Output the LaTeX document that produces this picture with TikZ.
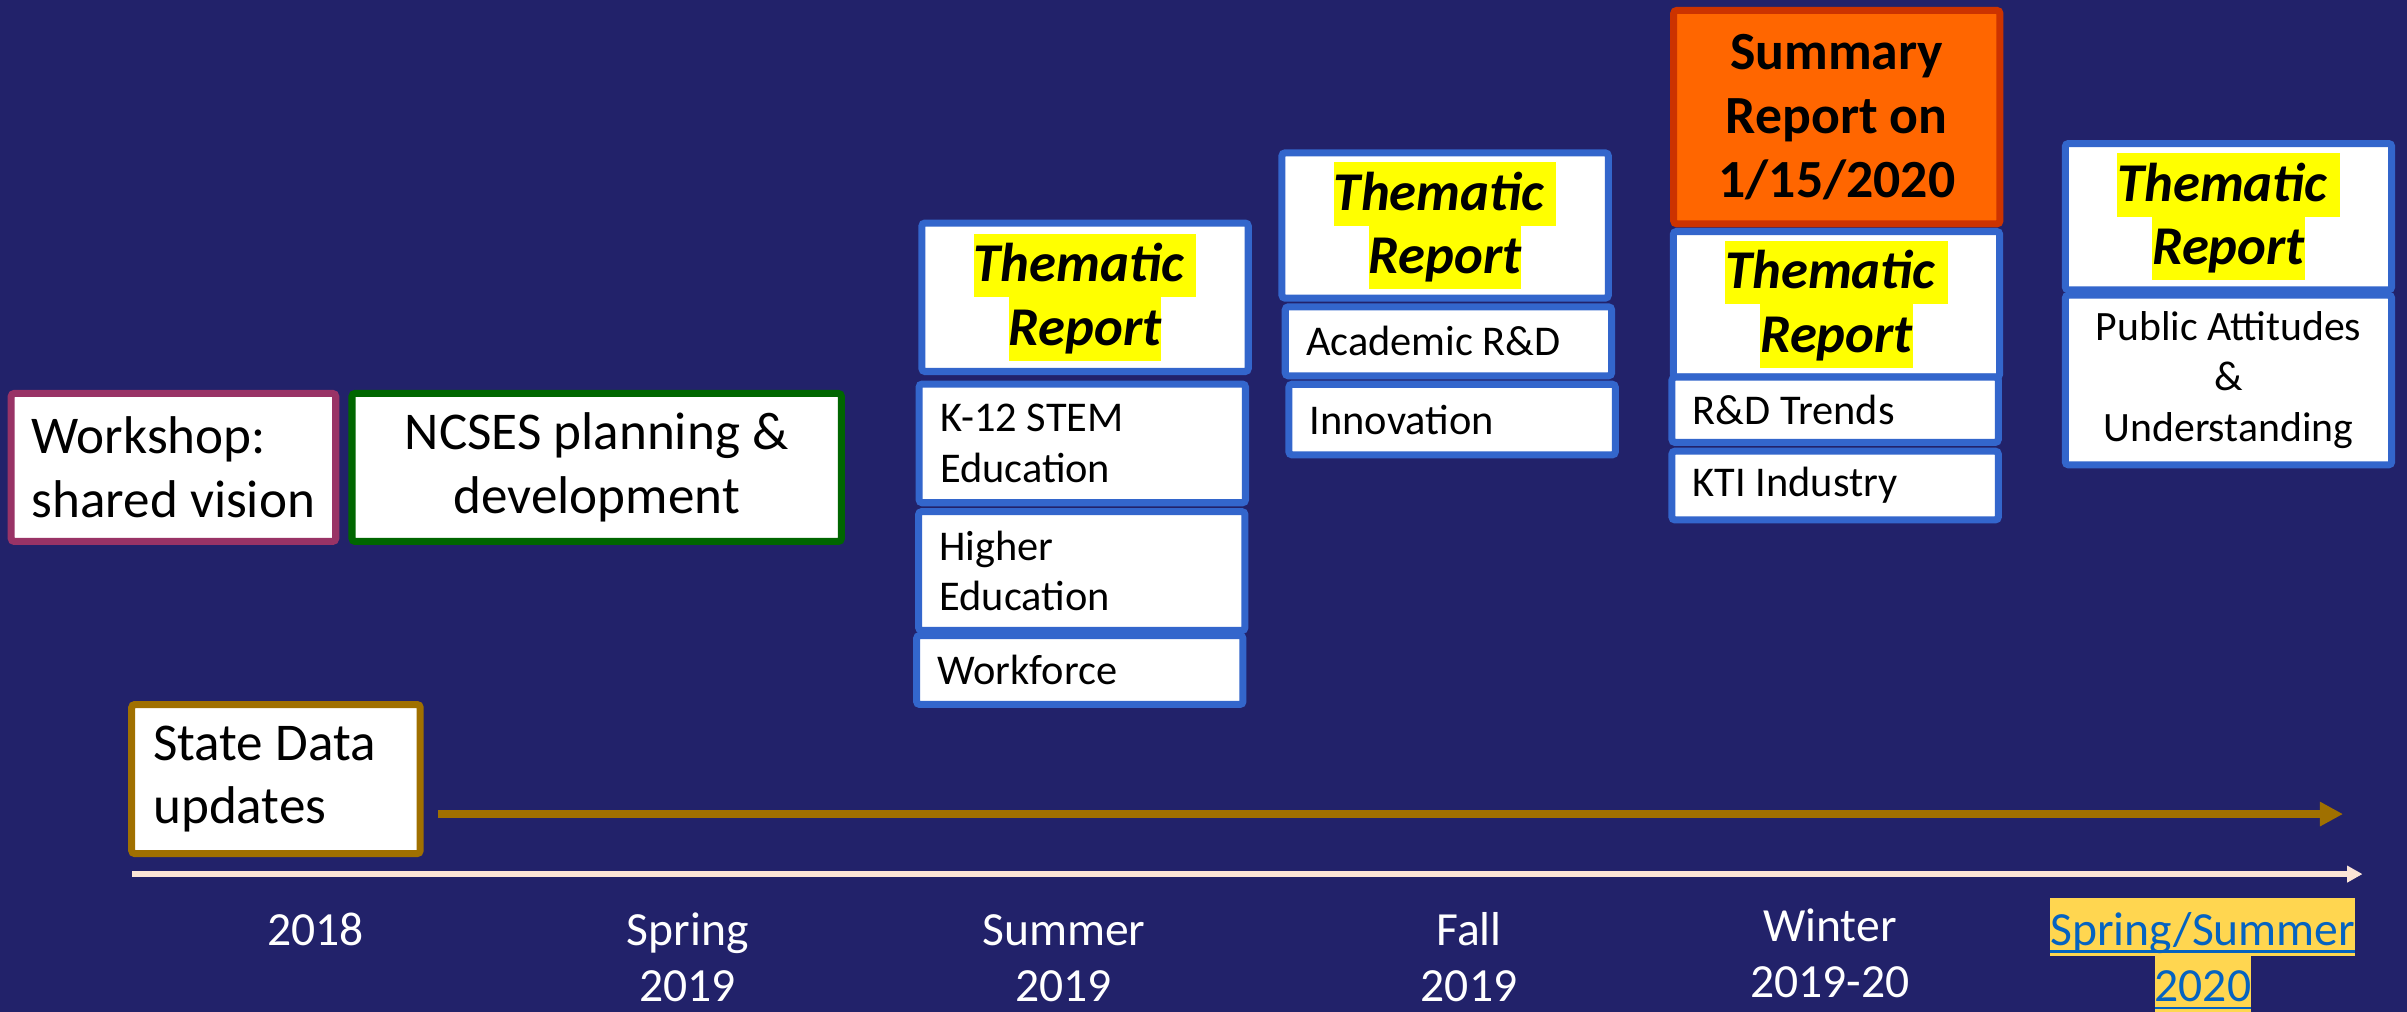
\documentclass[tikz,border=0pt]{standalone}
\usepackage{fontspec}
\setmainfont{Carlito}
\usetikzlibrary{arrows.meta}
\definecolor{bg}{RGB}{34,34,106}
\definecolor{rblue}{RGB}{51,102,204}
\definecolor{wsmag}{RGB}{153,51,102}
\definecolor{ncgreen}{RGB}{0,102,0}
\definecolor{sdgold}{RGB}{160,112,0}
\definecolor{sumorange}{RGB}{255,102,0}
\definecolor{sumborder}{RGB}{204,51,0}
\definecolor{hlyellow}{RGB}{255,255,0}
\definecolor{hlgold}{RGB}{255,214,80}
\definecolor{linkblue}{RGB}{5,99,193}
\definecolor{tlcream}{RGB}{251,229,214}
\lineskiplimit=-20pt
\newcommand\hlthem[1]{{\setlength\fboxsep{0pt}\colorbox{hlyellow}{\rule[-5pt]{0pt}{20.7pt}#1}}}
\newcommand\undl[1]{\setbox0\hbox{#1}\rlap{\rule[-2.5pt]{\wd0}{0.9pt}}\box0}
\newcommand\hlss[1]{{\setlength\fboxsep{0pt}\colorbox{hlgold}{\rule[-3.7pt]{0pt}{19pt}\undl{#1}}}}
\begin{document}
\begin{tikzpicture}[x=0.5pt,y=-0.5pt,
  box/.style={draw, line width=2.3pt, fill=white, rounded corners=1pt, inner sep=0pt, text=black},
  bigtext/.style={font=\fontsize{17.3}{20.7}\selectfont},
  them/.style={box, draw=rblue, minimum width=106.3pt, align=center,
    font=\fontsize{17.8}{20.7}\selectfont\bfseries\itshape},
  sub/.style={box, draw=rblue, minimum width=106.3pt, text width=92.7pt, inner xsep=6.8pt,
    align=flush left, font=\fontsize{13.8}{16.3}\selectfont},
  lbl/.style={text=white, align=center, inner sep=0pt,
    font=\fontsize{15.5}{18.5}\selectfont},
  goldarrow/.style={line width=2.7pt, draw=sdgold, -{Triangle[width=7.5pt,length=7.5pt]}},
  timeline/.style={line width=1.85pt, draw=tlcream, -{Triangle[width=5.2pt,length=5pt]}}]
\useasboundingbox (0,0) rectangle (1568,659);
\fill[bg] (0,0) rectangle (1568,659);

% left boxes
\node[box, draw=wsmag, minimum width=105.7pt, minimum height=48.2pt, align=flush left, bigtext] (ws) at (113,304.5) {Workshop:\\shared vision};
\node[box, draw=ncgreen, minimum width=159.4pt, minimum height=48.2pt, align=center, bigtext] (ncses) at (388.7,304.5) {NCSES planning \&\\development};
\node[box, draw=sdgold, minimum width=93.95pt, minimum height=48.55pt, text width=79.9pt, inner xsep=7pt, align=flush left, bigtext] (sd) at (179.75,507.5) {State Data\\updates};

% Summer 2019
\node[them, minimum height=48.35pt] (th1) at (706.85,193.65) {\hlthem{Thematic\ }\\\hlthem{Report}};
\node[sub, minimum height=38.65pt] (k12) at (705.05,288.85) {K-12 STEM\\Education};
\node[sub, minimum height=38.7pt] (hed) at (704.7,372) {Higher\\Education};
\node[sub, minimum height=22.45pt] (wf) at (703.4,436.45) {Workforce};

% Fall 2019
\node[them, minimum height=47.3pt] (th2) at (941.4,146.9) {\hlthem{Thematic\ }\\\hlthem{Report}};
\node[sub, minimum height=22.45pt] (acad) at (943.55,222.35) {Academic R\&D};
\node[sub, minimum height=23pt] (innov) at (945.95,273.3) {Innovation};

% Winter 2019-20
\node[box, draw=sumborder, fill=sumorange, minimum width=106.25pt, minimum height=69.5pt, align=center,
  font=\fontsize{17.5}{20.7}\selectfont\bfseries] (summ) at (1196.55,76.3) {Summary\\Report on\\1/15/2020};
\node[them, minimum height=47.4pt] (th3) at (1196.35,198.2) {\hlthem{Thematic\ }\\\hlthem{Report}};
\node[sub, minimum height=21.25pt] (rdt) at (1195.45,266.95) {R\&D Trends};
\node[sub, minimum height=22.4pt] (kti) at (1195.45,316.3) {KTI Industry};

% Spring/Summer 2020
\node[them, minimum height=47.65pt] (th4) at (1451.7,141.15) {\hlthem{Thematic\ }\\\hlthem{Report}};
\node[box, draw=rblue, minimum width=106.3pt, minimum height=55.25pt, align=center,
  font=\fontsize{13.6}{16.5}\selectfont] (pub) at (1451.7,247.55) {Public Attitudes\\\&\\Understanding};

% arrows
\coordinate (gs) at (285.5,530.3);
\coordinate (ge) at (1526.3,530.3);
\draw[goldarrow] (gs) -- (ge);
\coordinate (ts) at (86.2,569.4);
\coordinate (te) at (1539,569.4);
\draw[timeline] (ts) -- (te);

% timeline labels (base = baseline of last line)
\node[lbl, anchor=base] (y2018) at (205.5,615.6) {2018};
\node[lbl, anchor=base] (sp19) at (448,652.6) {Spring\\2019};
\node[lbl, anchor=base] (su19) at (693,652.6) {Summer\\2019};
\node[lbl, anchor=base] (fa19) at (957,652.6) {Fall\\2019};
\node[lbl, anchor=base] (wi19) at (1192,650) {Winter\\2019-20};
\node[lbl, anchor=base, text=linkblue] (ss20) at (1435,652.6) {\hlss{Spring/Summer}\\\hlss{2020}};
\end{tikzpicture}
\end{document}
